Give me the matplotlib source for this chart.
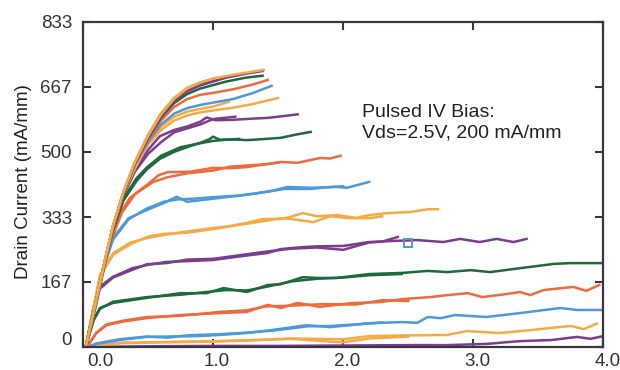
import numpy as np
import matplotlib.pyplot as plt
from matplotlib.transforms import ScaledTranslation

plt.rcParams['font.family'] = ['Liberation Sans', 'DejaVu Sans']

# colour cycle of the gate-voltage families (bottom -> top)
purple = '#7b3d8d'
yellow = '#f5ab45'
blue = '#4c9ade'
red = '#ef6a3d'
green = '#1d6a3c'

# each family: list of (Vds, Id) traces; Vds in V, Id in mA/mm
vg01 = [([0.0, 0.5, 1.0, 1.5, 2.0, 2.5, 2.8, 3.1, 3.35, 3.6, 3.8, 3.9, 4.0],
         [0, 2, 3, 3, 4, 5, 5, 8, 15, 18, 26, 21, 28])]
vg02 = [([0.02, 0.1, 0.3, 0.6, 1.0, 1.3, 1.6, 2.0, 2.2, 2.5, 2.8, 2.95, 3.2, 3.4, 3.6, 3.75, 3.85, 3.95],
         [0, 5, 10, 12, 14, 17, 22, 20, 28, 30, 31, 41, 36, 42, 49, 54, 46, 60]),
        ([0.02, 0.1, 0.3, 0.6, 1.0, 1.3, 1.6, 1.9, 2.0, 2.2, 2.5],
         [0, 6, 11, 13, 15, 18, 21, 14, 12, 22, 27])]
vg03 = [([0.04, 0.1, 0.28, 0.49, 0.65, 0.88, 1.05, 1.26, 1.46, 1.72, 1.9, 2.2, 2.46, 2.57, 2.65, 2.75, 2.86, 3.1, 3.36, 3.67, 3.8, 4.0],
         [0, 8, 18, 26, 27, 28, 31, 36, 44, 56, 51, 61, 64, 62, 77, 74, 82, 77, 87, 100, 95, 95]),
        ([0.04, 0.1, 0.28, 0.49, 0.65, 0.8, 1.05, 1.26, 1.46, 1.72, 1.9, 2.1, 2.3],
         [0, 9, 20, 27, 24, 30, 33, 37, 42, 53, 54, 58, 63])]
vg04 = [([0.03, 0.1, 0.18, 0.3, 0.49, 0.75, 1.05, 1.26, 1.42, 1.52, 1.65, 1.82, 2.08, 2.28, 2.46, 2.67, 2.8, 2.96, 3.07, 3.26, 3.36, 3.44, 3.54, 3.77, 3.87, 3.97],
         [0, 35, 56, 65, 74, 82, 87, 90, 108, 100, 113, 103, 113, 115, 123, 128, 133, 138, 128, 136, 141, 133, 146, 154, 144, 159]),
        ([0.03, 0.1, 0.18, 0.3, 0.49, 0.75, 1.05, 1.26, 1.4, 1.6, 1.85, 2.1, 2.3, 2.5],
         [0, 36, 58, 67, 77, 80, 90, 94, 104, 106, 110, 109, 120, 118])]
vg05 = [([0.02, 0.08, 0.13, 0.23, 0.49, 0.75, 0.95, 1.08, 1.26, 1.42, 1.52, 1.69, 1.8, 1.95, 2.2, 2.46, 2.65, 2.8, 2.98, 3.13, 3.36, 3.62, 3.75, 4.0],
         [0, 70, 100, 113, 126, 138, 138, 151, 141, 159, 161, 179, 177, 177, 187, 190, 195, 192, 197, 192, 202, 213, 215, 215]),
        ([0.02, 0.08, 0.13, 0.23, 0.49, 0.75, 0.95, 1.1, 1.26, 1.42, 1.6, 1.8, 2.0, 2.2, 2.45],
         [0, 68, 98, 116, 128, 134, 141, 146, 145, 155, 168, 175, 178, 184, 187])]
vg06 = [([0.02, 0.08, 0.13, 0.23, 0.38, 0.49, 0.64, 0.8, 1.0, 1.2, 1.42, 1.52, 1.69, 1.8, 2.0, 2.2, 2.4, 2.57, 2.77, 2.9, 3.05, 3.18, 3.31, 3.41],
         [0, 100, 155, 180, 202, 210, 218, 220, 223, 232, 241, 251, 256, 258, 259, 269, 272, 274, 269, 277, 269, 277, 269, 277]),
        ([0.02, 0.08, 0.13, 0.23, 0.38, 0.49, 0.64, 0.8, 1.0, 1.2, 1.42, 1.6, 1.8, 2.0, 2.2, 2.3, 2.42],
         [0, 98, 150, 178, 198, 212, 215, 224, 226, 235, 245, 252, 255, 249, 268, 270, 282])]
vg07 = [([0.02, 0.08, 0.13, 0.23, 0.36, 0.5, 0.62, 0.8, 1.0, 1.13, 1.26, 1.38, 1.52, 1.59, 1.69, 1.8, 1.95, 2.1, 2.2, 2.34, 2.52, 2.65, 2.73],
         [0, 100, 185, 240, 267, 280, 287, 296, 305, 310, 318, 328, 328, 333, 343, 335, 338, 331, 338, 343, 346, 353, 353]),
        ([0.02, 0.08, 0.13, 0.23, 0.36, 0.5, 0.62, 0.8, 1.0, 1.2, 1.38, 1.52, 1.6, 1.77, 1.9, 2.05, 2.2, 2.3],
         [0, 98, 180, 236, 263, 283, 290, 293, 302, 313, 322, 330, 328, 320, 335, 330, 330, 335])]
vg08 = [([0.02, 0.1, 0.15, 0.23, 0.35, 0.49, 0.62, 0.72, 0.8, 1.0, 1.13, 1.3, 1.45, 1.57, 1.75, 1.95, 2.03, 2.2],
         [0, 110, 200, 280, 330, 351, 369, 385, 372, 380, 385, 392, 400, 410, 408, 410, 408, 423]),
        ([0.02, 0.1, 0.15, 0.23, 0.35, 0.49, 0.62, 0.72, 0.85, 1.0, 1.2, 1.4, 1.55, 1.75, 1.9, 2.0],
         [0, 108, 195, 275, 327, 355, 372, 378, 380, 384, 388, 397, 405, 405, 410, 412])]
vg09 = [([0.02, 0.1, 0.2, 0.28, 0.36, 0.49, 0.58, 0.65, 0.82, 1.0, 1.13, 1.26, 1.4, 1.52, 1.65, 1.82, 1.9, 1.98],
         [0, 110, 265, 340, 382, 415, 440, 448, 449, 459, 458, 461, 468, 474, 472, 484, 483, 490]),
        ([0.02, 0.1, 0.2, 0.3, 0.4, 0.54, 0.65, 0.8, 1.0, 1.13, 1.26, 1.4, 1.5],
         [0, 110, 260, 345, 392, 423, 435, 445, 452, 462, 465, 468, 472])]
vg10 = [([0.02, 0.1, 0.17, 0.23, 0.31, 0.41, 0.49, 0.59, 0.7, 0.8, 0.9, 0.97, 1.0, 1.05, 1.15, 1.26, 1.4, 1.52, 1.65, 1.75],
         [0, 115, 220, 300, 375, 425, 455, 482, 500, 512, 523, 532, 539, 531, 532, 530, 533, 536, 545, 551]),
        ([0.02, 0.1, 0.17, 0.23, 0.31, 0.41, 0.49, 0.6, 0.75, 0.9, 1.0, 1.1, 1.2],
         [0, 116, 221, 302, 380, 432, 460, 490, 512, 522, 528, 531, 533])]
vg11 = [([0.02, 0.1, 0.17, 0.23, 0.31, 0.4, 0.5, 0.59, 0.7, 0.8, 0.9, 0.95, 1.02, 1.15, 1.3, 1.42, 1.55, 1.65],
         [0, 116, 222, 305, 390, 455, 505, 540, 556, 565, 577, 588, 581, 582, 585, 587, 592, 596]),
        ([0.02, 0.1, 0.17, 0.23, 0.31, 0.4, 0.5, 0.6, 0.7, 0.9, 1.0, 1.17],
         [0, 116, 221, 304, 388, 450, 495, 525, 550, 570, 584, 590])]
vg12 = [([0.02, 0.1, 0.17, 0.23, 0.31, 0.41, 0.5, 0.6, 0.7, 0.8, 0.9, 1.0, 1.15, 1.3, 1.4, 1.5],
         [0, 117, 222, 306, 393, 465, 518, 556, 580, 593, 601, 606, 613, 622, 630, 638]),
        ([0.02, 0.1, 0.17, 0.23, 0.31, 0.41, 0.5, 0.6, 0.7, 0.8, 0.9, 1.0, 1.12],
         [0, 117, 223, 307, 394, 468, 522, 565, 590, 603, 610, 616, 628])]
vg13 = [([0.02, 0.1, 0.17, 0.23, 0.31, 0.4, 0.5, 0.6, 0.7, 0.8, 0.9, 1.0, 1.15, 1.3, 1.45],
         [0, 117, 223, 307, 394, 468, 525, 570, 598, 612, 620, 626, 635, 650, 669])]
vg14 = [([0.02, 0.1, 0.17, 0.23, 0.31, 0.4, 0.5, 0.6, 0.7, 0.8, 0.9, 1.0, 1.15, 1.3, 1.42],
         [0, 117, 223, 308, 395, 470, 530, 580, 615, 635, 646, 651, 660, 672, 684])]
vg15 = [([0.02, 0.1, 0.17, 0.23, 0.31, 0.4, 0.5, 0.6, 0.7, 0.8, 0.9, 1.1, 1.25, 1.38],
         [0, 117, 223, 308, 395, 471, 535, 588, 625, 648, 662, 680, 690, 695]),
        ([0.02, 0.1, 0.17, 0.23, 0.31, 0.4, 0.5, 0.6, 0.7, 0.8, 0.9, 1.03],
         [0, 117, 224, 308, 395, 472, 542, 598, 635, 660, 673, 684])]
vg16 = [([0.02, 0.1, 0.17, 0.23, 0.31, 0.4, 0.5, 0.6, 0.7, 0.8, 0.9, 1.1, 1.25, 1.38],
         [0, 118, 224, 309, 396, 472, 535, 590, 630, 655, 670, 690, 700, 707]),
        ([0.02, 0.1, 0.17, 0.23, 0.31, 0.4, 0.5, 0.6, 0.7, 0.8, 1.0],
         [0, 118, 224, 309, 396, 473, 540, 597, 637, 662, 686])]
vg17 = [([0.02, 0.1, 0.17, 0.23, 0.31, 0.4, 0.5, 0.6, 0.7, 0.8, 0.9, 1.0, 1.2, 1.39],
         [0, 118, 225, 310, 397, 474, 541, 596, 636, 662, 677, 688, 700, 710]),
        ([0.02, 0.1, 0.17, 0.23, 0.31, 0.4, 0.5, 0.6, 0.7, 0.8, 0.9, 1.02],
         [0, 119, 226, 311, 398, 476, 543, 599, 638, 664, 678, 689])]

families = [vg01, vg02, vg03, vg04, vg05, vg06, vg07, vg08, vg09, vg10,
            vg11, vg12, vg13, vg14, vg15, vg16, vg17]
cycle = [purple, yellow, blue, red, green]

bias_point = (2.5, 266)
yticks = [0, 167, 333, 500, 667, 833]
xticks = [0.0, 1.0, 2.0, 3.0, 4.0]


fig = plt.figure(figsize=(6.2, 3.7), dpi=100)
ax = fig.add_axes([0.134, 0.062, 0.839, 0.879])

for k, fam in enumerate(families):
    col = cycle[k % len(cycle)]
    for v, i in fam:
        ax.plot(v, i, color=col, linewidth=1.8, solid_joinstyle='round')

ax.plot(*bias_point, 's', markersize=6, mfc='none', mec=blue, mew=1.4,
        zorder=10)

ax.text(0.537, 0.748, 'Pulsed IV Bias:\nVds=2.5V, 200 mA/mm',
        transform=ax.transAxes, fontsize=14, va='top', ha='left',
        linespacing=1.3, color='#222222')

ax.set_xlim(0, 4)
ax.set_ylim(0, 833)
ax.set_xticks(xticks)
ax.set_xticklabels(['%.1f' % x for x in xticks])
ax.set_yticks(yticks)
ax.set_yticklabels([str(y) for y in yticks])
for s in ax.spines.values():
    s.set_color('#3b3540')
    s.set_linewidth(1.6)
ax.tick_params(direction='in', length=6, width=1.5, color='#3b3540',
               labelsize=13.5, labelcolor='#333333', top=True, right=True)
ax.tick_params(axis='x', pad=4)
ax.tick_params(axis='y', pad=8)

ax.set_ylabel('Drain Current (mA/mm)', fontsize=13.5, color='#222222')
ax.yaxis.set_label_coords(-0.098, 0.51)

# small label offsets like the original artwork
xl = ax.get_xticklabels()
for lbl in xl:
    lbl.set_transform(lbl.get_transform() +
                      ScaledTranslation(0.04, 0, fig.dpi_scale_trans))
xl[0].set_horizontalalignment('left')
yl = ax.get_yticklabels()
yl[0].set_transform(yl[0].get_transform() +
                    ScaledTranslation(0, 0.09, fig.dpi_scale_trans))

plt.savefig('out.png', dpi=100)
plt.close()
